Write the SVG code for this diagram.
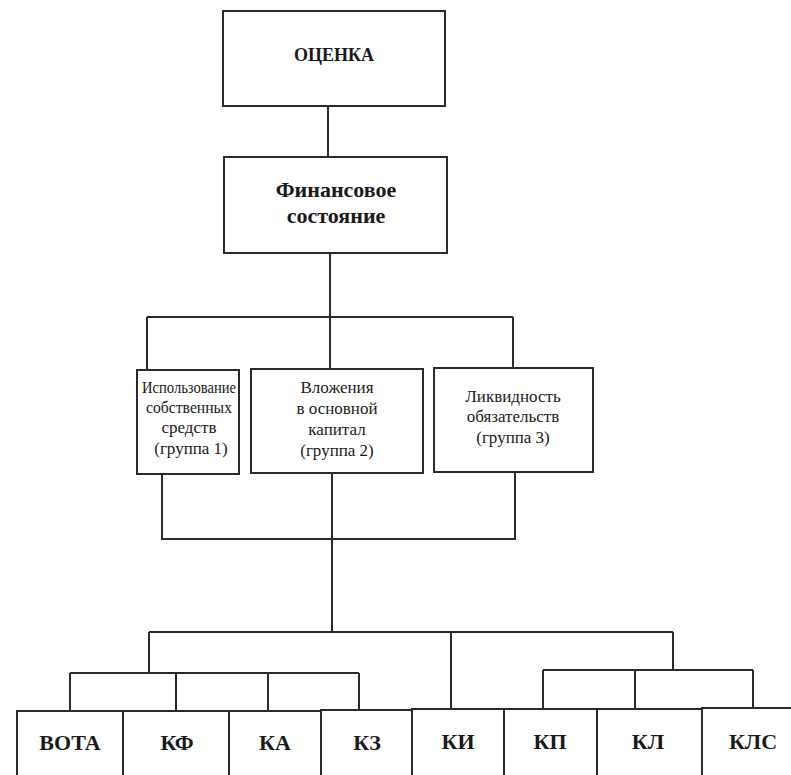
<svg xmlns="http://www.w3.org/2000/svg" width="791" height="775" viewBox="0 0 791 775">
<style>
.box{fill:#fff;stroke:#2a2a2a;stroke-width:2}
.ln{fill:none;stroke:#2a2a2a;stroke-width:2}
.t{font-family:"Liberation Serif","Times New Roman",serif;fill:#1a1a1a;text-anchor:middle}
.b{font-weight:bold}
.big{font-size:18px}
.fin{font-size:22px}
.mid{font-size:17px}
.bot{font-size:22px}
</style>
<rect width="791" height="775" fill="#fff"/>
<g id="connectors">
<path class="ln" d="M328 106V157"/>
<path class="ln" d="M330 253V317M147 317H513M147 317V370M330 317V369M513 317V368"/>
<path class="ln" d="M162 474V539H515V472M332 473V632M149 632H673M149 632V673M451 632V709M673 632V670"/>
<path class="ln" d="M70 673H359M70 673V711M176 673V711M268 673V711M359 673V711"/>
<path class="ln" d="M543 670H753M543 670V709M635 670V709M753 670V709"/>
</g>
<g id="ocenka"><rect class="box" x="223" y="11" width="222" height="95"/><text class="t b big" x="334" y="61">ОЦЕНКА</text></g>
<g id="finsost"><rect class="box" x="224" y="157" width="223" height="96"/><text class="t b fin" x="336" y="197">Финансовое</text><text class="t b fin" x="336" y="223">состояние</text></g>
<g id="group1"><rect class="box" x="137" y="370" width="102" height="104"/>
<text class="t mid" x="189" y="393" textLength="94" lengthAdjust="spacingAndGlyphs">Использование</text><text class="t mid" x="189" y="413" textLength="86" lengthAdjust="spacingAndGlyphs">собственных</text><text class="t mid" x="189" y="433">средств</text><text class="t mid" x="191" y="454">(группа 1)</text></g>
<g id="group2"><rect class="box" x="251" y="369" width="172" height="104"/>
<text class="t mid" x="337" y="393">Вложения</text><text class="t mid" x="337" y="414">в основной</text><text class="t mid" x="337" y="435">капитал</text><text class="t mid" x="337" y="456">(группа 2)</text></g>
<g id="group3"><rect class="box" x="434" y="368" width="159" height="104"/>
<text class="t mid" x="513" y="402">Ликвидность</text><text class="t mid" x="513" y="422">обязательств</text><text class="t mid" x="513" y="443">(группа 3)</text></g>
<g id="vota"><rect class="box" x="17" y="711" width="106" height="70"/><text class="t b bot" x="70" y="750">ВОТА</text></g>
<g id="kf"><rect class="box" x="123" y="711" width="106" height="70"/><text class="t b bot" x="177" y="750">КФ</text></g>
<g id="ka"><rect class="box" x="229" y="711" width="92" height="70"/><text class="t b bot" x="275" y="750">КА</text></g>
<g id="kz"><rect class="box" x="321" y="710" width="91" height="70"/><text class="t b bot" x="367" y="750">КЗ</text></g>
<g id="ki"><rect class="box" x="412" y="709" width="92" height="70"/><text class="t b bot" x="458" y="749">КИ</text></g>
<g id="kp"><rect class="box" x="504" y="709" width="93" height="70"/><text class="t b bot" x="550" y="749">КП</text></g>
<g id="kl"><rect class="box" x="597" y="709" width="105" height="70"/><text class="t b bot" x="648" y="749">КЛ</text></g>
<g id="kls"><rect class="box" x="702" y="708" width="95" height="70"/><text class="t b bot" x="753" y="749">КЛС</text></g>
</svg>
